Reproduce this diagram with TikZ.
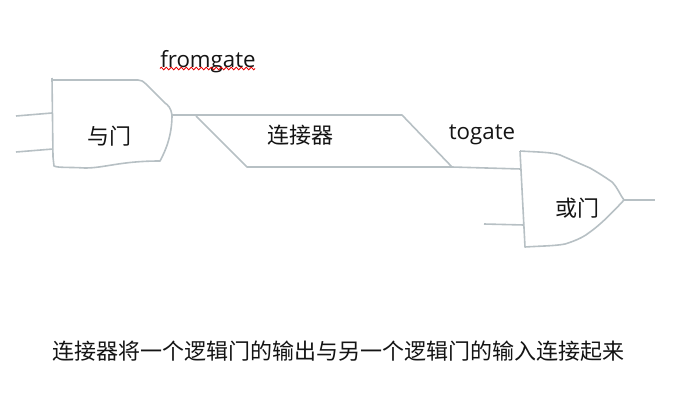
\documentclass[tikz,border=0pt]{standalone}
\usepackage{fontspec}
\setmainfont{Open Sans}
\newfontfamily\cjk{Noto Sans CJK SC}
\usetikzlibrary{decorations.pathmorphing}
\tikzset{
  wire/.style={draw=gatecol, line width=1.6pt, line join=round},
  cnlabel/.style={font=\cjk\fontsize{22}{24}\selectfont, text=black!92, inner sep=0pt},
  enlabel/.style={font=\fontsize{22.3}{24}\selectfont, text=black!92, inner sep=0pt},
}
\definecolor{gatecol}{HTML}{B7C0C4}
\begin{document}
\begin{tikzpicture}[x=1pt, y=-1pt]
\useasboundingbox (0,0) rectangle (695,407);

% and gate
\coordinate (andout) at (172,115);
\coordinate (andtop) at (52,113);
\coordinate (andbot) at (53,149);
\draw[wire] (52,78) -- (53,157) -- (54,166) .. controls (58,168) and (70,167) .. (85,168)
  .. controls (105,168) and (120,161) .. (160,161)
  .. controls (166,150) and (172,135) .. (andout)
  .. controls (171,108) and (168,105) .. (165,103) -- (147,85)
  .. controls (143,81) and (141,80) .. (138,80) -- (52,80);
\coordinate (andin1) at (16,116);
\coordinate (andin2) at (16,152);
\draw[wire] (andin1) -- (andtop);
\draw[wire] (andin2) -- (andbot);

% connector
\coordinate (conna) at (196,116);
\coordinate (connb) at (247,167);
\coordinate (connc) at (452,167);
\coordinate (connd) at (402,115);
\draw[wire] (andout) -- (connd) -- (connc) -- (connb) -- (conna);

% or gate
\coordinate (ortop) at (521,169);
\coordinate (orbot) at (524,225);
\coordinate (orout) at (624,200);
\draw[wire] (520,151) -- (525,247) .. controls (540,246) and (555,246) .. (565,244)
  .. controls (578,240) and (585,236) .. (590,232)
  .. controls (600,225) and (612,213) .. (orout)
  .. controls (620,195) and (618,188) .. (612,182)
  .. controls (605,177) and (597,172) .. (590,168)
  -- (560,155) .. controls (552,152) and (535,152) .. (520,151);
\coordinate (orin) at (484,224);
\coordinate (orend) at (655,200);
\draw[wire] (connc) -- (ortop);
\draw[wire] (orin) -- (orbot);
\draw[wire] (orout) -- (orend);

% labels
\node[cnlabel] (andlabel) at (109,136) {与门};
\node[cnlabel] (connlabel) at (300,135) {连接器};
\node[cnlabel] (orlabel) at (577,208) {或门};
\node[enlabel] (fromlabel) at (208,62) {fromgate};
\node[enlabel] (tolabel) at (482,135) {togate};
\node[cnlabel] (caption) at (338,351) {连接器将一个逻辑门的输出与另一个逻辑门的输入连接起来};

% spell check line
\coordinate (waveleft) at (160,68.5);
\coordinate (waveright) at (255,68.5);
\draw[red!90!black, line width=0.8pt, decorate, decoration={zigzag, amplitude=1.4pt, segment length=5pt}]
  (waveleft) -- (waveright);
\end{tikzpicture}
\end{document}
